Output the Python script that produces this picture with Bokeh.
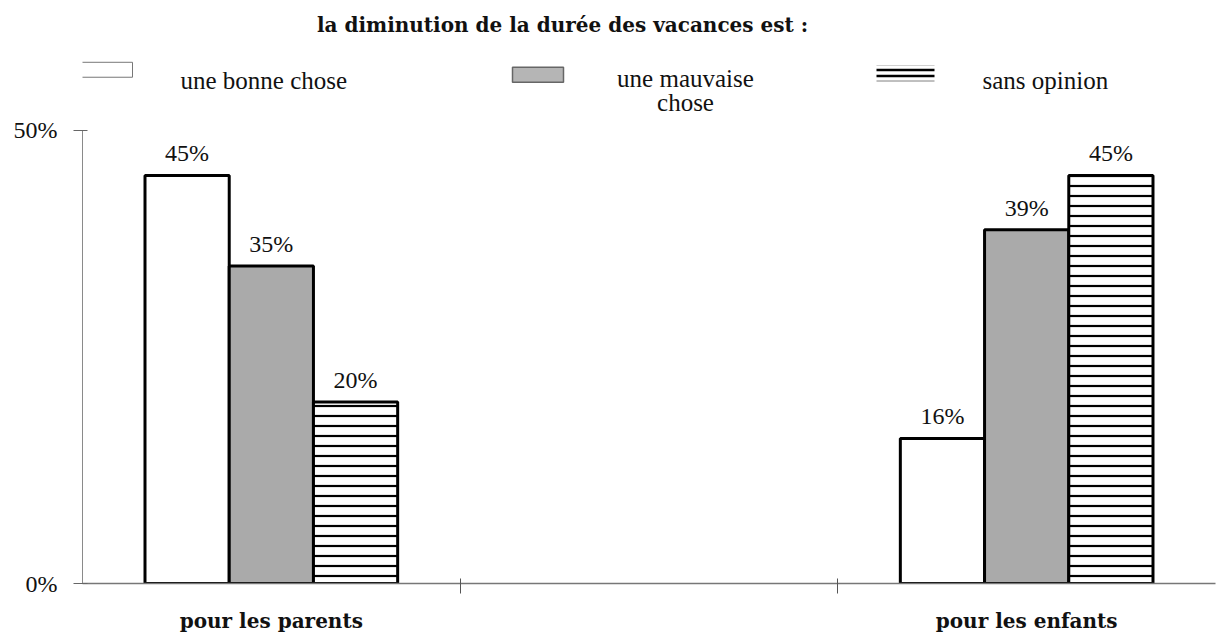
from bokeh.plotting import figure
from bokeh.models import Range1d, FixedTicker, NumeralTickFormatter
from bokeh.core.properties import value
from bokeh.embed import file_html
from bokeh.resources import INLINE

# ---------------- data ----------------
title_text = "la diminution de la durée des vacances est :"
groups = ["pour les parents", "pour les enfants"]
series_names = ["une bonne chose", "une mauvaise\nchose", "sans opinion"]
bonne = [0.45, 0.16]
mauvaise = [0.35, 0.39]
sans_opinion = [0.20, 0.45]
y_ticks = [0.0, 0.5]

# ---------------- layout ----------------
W, H = 1224, 635
BL, BR, BB = 82, 9, 50
FW, FH = W - BL - BR, H - BB
Y50_PX = 130                       # pixel row of the 50% tick
Y_END = 0.5 * FH / (FH - Y50_PX)
N_SLOTS = 3                        # parents | (empty) | enfants
BW = 0.223                         # bar width in slot units

def dx(px):
    return (px - BL) / FW * N_SLOTS

def dy(py):
    return (FH - py) / FH * Y_END

SERIF = value("Liberation Serif")
BOLD_SERIF = value("DejaVu Serif")

p = figure(width=W, height=H, output_backend="svg", toolbar_location=None,
           x_range=Range1d(0, N_SLOTS), y_range=Range1d(0, Y_END),
           min_border_left=BL, min_border_right=BR, min_border_bottom=BB,
           min_border_top=0, title=None)
p.outline_line_color = None
p.grid.visible = False
p.background_fill_color = "white"
p.border_fill_color = "white"

# ---------------- bars ----------------
styles = [
    dict(fill_color="white"),
    dict(fill_color="#aaaaaa"),
    dict(fill_color="white", hatch_pattern="horizontal_line", hatch_scale=10,
         hatch_weight=2.2, hatch_color="black"),
]
all_vals = [bonne, mauvaise, sans_opinion]
for k, (vals, st) in enumerate(zip(all_vals, styles)):
    xs = [0.5 + 2 * i + (k - 1) * BW for i in range(len(groups))]
    p.vbar(x=xs, top=vals, bottom=0, width=BW, line_color="black",
           line_width=3, **st)
    labels = [f"{round(v * 100)}%" for v in vals]
    ys = [v + 9 / FH * Y_END for v in vals]
    p.text(x=xs, y=ys, text=labels, text_align="center", text_baseline="bottom",
           text_font=SERIF, text_font_size="24px", text_color="#111111")

# ---------------- axes ----------------
yax = p.yaxis[0]
yax.ticker = FixedTicker(ticks=y_ticks)
yax.formatter = NumeralTickFormatter(format="0%")
yax.bounds = (0, 0.5)
yax.axis_line_color = "#8a8a8a"
yax.axis_line_width = 1
yax.major_tick_line_color = "#666666"
yax.major_tick_out = 9
yax.major_tick_in = 5
yax.minor_tick_line_color = None
yax.major_label_standoff = 16
yax.major_label_text_font = "Liberation Serif"
yax.major_label_text_font_size = "24px"
yax.major_label_text_color = "#111111"

xax = p.xaxis[0]
xax.ticker = FixedTicker(ticks=[0.5 + 2 * i for i in range(len(groups))],
                         minor_ticks=[1, 2])
xax.major_label_overrides = {0.5 + 2 * i: g for i, g in enumerate(groups)}
xax.axis_line_color = "#777777"
xax.axis_line_width = 1.5
xax.major_tick_out = 0
xax.major_tick_in = 0
xax.minor_tick_line_color = "#555555"
xax.minor_tick_in = 5
xax.minor_tick_out = 10
xax.major_label_standoff = 15
xax.major_label_text_font = "DejaVu Serif"
xax.major_label_text_font_style = "bold"
xax.major_label_text_font_size = "20px"
xax.major_label_text_color = "#111111"

# ---------------- title & legend (layout in page pixels) ----------------
p.text(x=[dx(562)], y=[dy(25)], text=[title_text], text_align="center",
       text_baseline="alphabetic", text_font=BOLD_SERIF, text_font_style="bold",
       text_font_size="20px", text_color="#111111")

sw = [  # swatch boxes (left, right, top, bottom)
    (80, 132, 62, 77),
    (512, 563, 67, 82),
    (876, 934, 65, 81),
]
(l, r, t, b) = sw[0]
p.quad(left=[dx(l)], right=[dx(r)], top=[dy(t)], bottom=[dy(b)],
       fill_color="white", line_color="#777777", line_width=1)
(l, r, t, b) = sw[1]
p.quad(left=[dx(l)], right=[dx(r)], top=[dy(t)], bottom=[dy(b)],
       fill_color="#b5b5b5", line_color="#666666", line_width=1.5)
(l, r, t, b) = sw[2]
p.quad(left=[dx(l)], right=[dx(r)], top=[dy(t)], bottom=[dy(b)],
       fill_color="white", line_color=None, hatch_pattern="horizontal_line",
       hatch_scale=6, hatch_weight=2.5, hatch_color="black")

leg_text = dict(text_font=SERIF, text_font_size="25px", text_color="#111111",
                text_baseline="alphabetic")
p.text(x=[dx(180)], y=[dy(80)], text=[series_names[0]],
       text_align="left", **leg_text)
first, second = series_names[1].split("\n")
p.text(x=[dx(685)], y=[dy(78)], text=[first], text_align="center", **leg_text)
p.text(x=[dx(685)], y=[dy(102)], text=[second], text_align="center", **leg_text)
p.text(x=[dx(982)], y=[dy(80)], text=[series_names[2]],
       text_align="left", **leg_text)

open("out.html", "w").write(file_html(p, INLINE))
